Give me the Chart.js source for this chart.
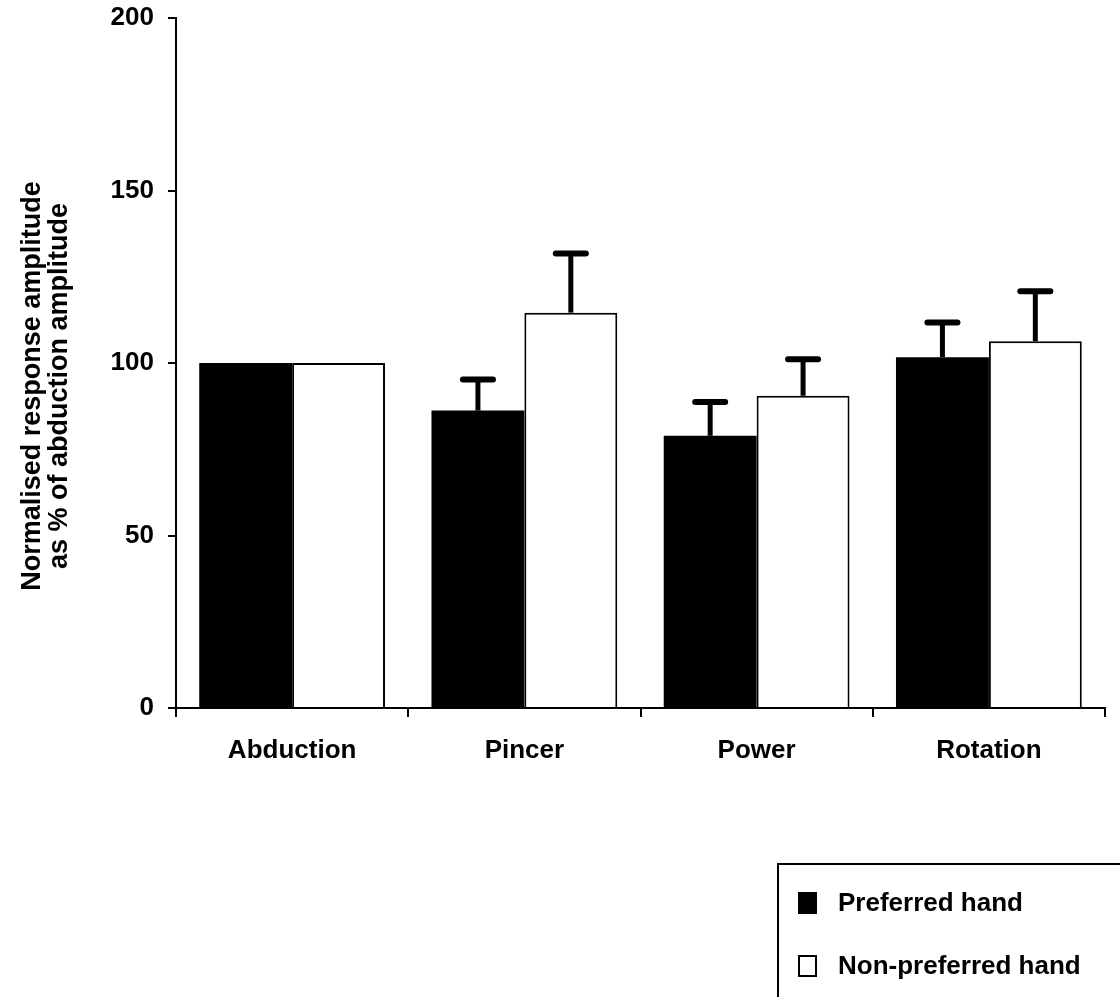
<!DOCTYPE html>
<html>
<head>
<meta charset="utf-8">
<script src="https://cdn.jsdelivr.net/npm/chart.js@4.4.1/dist/chart.umd.min.js"></script>
<style>
  html, body { margin: 0; padding: 0; background: #fff; }
  #wrap { width: 1120px; height: 997px; position: relative; }
</style>
</head>
<body>
<div id="wrap"><canvas id="c" width="1120" height="997"></canvas></div>
<script>
// Grip tasks and mean normalised amplitudes (% of abduction), with SEM above each bar
const categories = ['Abduction', 'Pincer', 'Power', 'Rotation'];
const preferredValues = [100, 86.2, 78.9, 101.7];
const preferredErrors = [0, 9.3, 10.1, 10.3];
const nonPreferredValues = [100, 114.6, 90.5, 106.3];
const nonPreferredErrors = [0, 17.4, 10.9, 14.8];
const yTicks = [0, 50, 100, 150, 200];
const seriesLabels = ['Preferred hand', 'Non-preferred hand'];
const yTitle = ['Normalised response amplitude', 'as % of abduction amplitude'];

const FONT = '"Liberation Sans", Arial, Helvetica, sans-serif';

// Upward-only error bars drawn from the bar scale
const errorBars = {
  id: 'errorBars',
  afterDatasetsDraw(chart) {
    const ctx = chart.ctx;
    const y = chart.scales.y;
    chart.data.datasets.forEach((ds, i) => {
      const meta = chart.getDatasetMeta(i);
      meta.data.forEach((bar, j) => {
        const err = ds.errors[j];
        if (!err) return;
        const top = y.getPixelForValue(ds.data[j] + err);
        const base = y.getPixelForValue(ds.data[j]);
        ctx.save();
        ctx.strokeStyle = '#000';
        ctx.lineCap = 'butt';
        ctx.lineWidth = 5;
        ctx.beginPath();
        ctx.moveTo(bar.x, base);
        ctx.lineTo(bar.x, top);
        ctx.stroke();
        ctx.lineWidth = 6;
        ctx.lineCap = 'round';
        ctx.beginPath();
        ctx.moveTo(bar.x - 15, top + 1);
        ctx.lineTo(bar.x + 15, top + 1);
        ctx.stroke();
        ctx.restore();
      });
    });
  }
};

// Two-line rotated title beside the value axis
const yAxisTitle = {
  id: 'yAxisTitle',
  afterDraw(chart) {
    const ctx = chart.ctx;
    ctx.save();
    ctx.translate(0, 386);
    ctx.rotate(-Math.PI / 2);
    ctx.font = 'bold 27px ' + FONT;
    ctx.fillStyle = '#000';
    ctx.textAlign = 'center';
    ctx.textBaseline = 'alphabetic';
    ctx.fillText(yTitle[0], 0, 40);
    ctx.fillText(yTitle[1], 0, 67);
    ctx.restore();
  }
};

// Boxed legend in the lower-right corner
const boxLegend = {
  id: 'boxLegend',
  afterDraw(chart) {
    const ctx = chart.ctx;
    ctx.save();
    ctx.strokeStyle = '#000';
    ctx.lineWidth = 2;
    ctx.strokeRect(778, 864, 400, 200);
    ctx.font = 'bold 26px ' + FONT;
    ctx.textBaseline = 'middle';
    ctx.fillStyle = '#000';
    const rows = [903, 966];
    chart.data.datasets.forEach((ds, i) => {
      const cy = rows[i];
      ctx.fillStyle = ds.backgroundColor;
      ctx.fillRect(798, cy - 11, 19, 22);
      ctx.lineWidth = 2;
      ctx.strokeStyle = '#000';
      ctx.strokeRect(799, cy - 10, 17, 20);
      ctx.fillStyle = '#000';
      ctx.fillText(ds.label, 838, cy + 1);
    });
    ctx.restore();
  }
};

new Chart(document.getElementById('c'), {
  type: 'bar',
  data: {
    labels: categories,
    datasets: [
      {
        label: seriesLabels[0],
        data: preferredValues,
        errors: preferredErrors,
        backgroundColor: '#000000',
        borderColor: '#000000',
        borderWidth: 0
      },
      {
        label: seriesLabels[1],
        data: nonPreferredValues,
        errors: nonPreferredErrors,
        backgroundColor: '#ffffff',
        borderColor: '#000000',
        borderWidth: 2
      }
    ]
  },
  options: {
    responsive: false,
    animation: false,
    devicePixelRatio: 1,
    layout: { padding: { top: 18, right: 15, bottom: 0, left: 0 } },
    datasets: { bar: { categoryPercentage: 0.8, barPercentage: 1.0 } },
    plugins: {
      legend: { display: false },
      tooltip: { enabled: false }
    },
    scales: {
      x: {
        afterFit(s) { s.height = 289; },
        grid: {
          offset: true,
          drawOnChartArea: false,
          drawTicks: true,
          tickLength: 9,
          color: '#000',
          lineWidth: 2
        },
        border: { display: true, color: '#000', width: 2 },
        ticks: {
          color: '#000',
          padding: 18,
          font: { family: FONT, size: 26, weight: 'bold' }
        }
      },
      y: {
        min: 0,
        max: 200,
        afterFit(s) { s.width = 176; s.paddingTop = 0; s.paddingBottom = 0; },
        afterBuildTicks(s) { s.ticks = yTicks.map(v => ({ value: v })); },
        grid: {
          drawOnChartArea: false,
          drawTicks: true,
          tickLength: 8,
          color: '#000',
          lineWidth: 2
        },
        border: { display: true, color: '#000', width: 2 },
        ticks: {
          color: '#000',
          padding: 14,
          font: { family: FONT, size: 26, weight: 'bold' }
        }
      }
    }
  },
  plugins: [errorBars, yAxisTitle, boxLegend]
});
</script>
</body>
</html>
